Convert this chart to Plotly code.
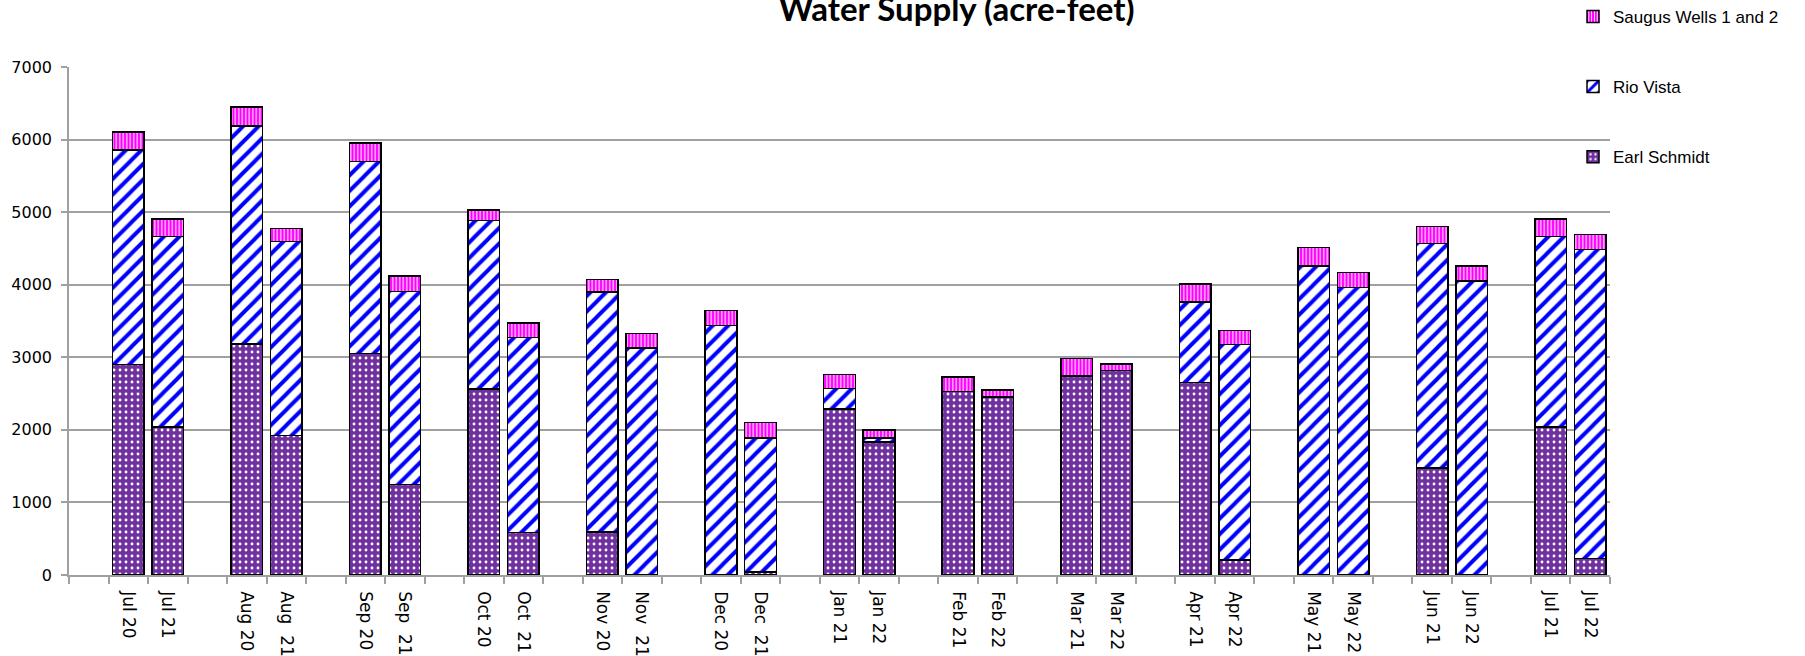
import plotly.graph_objects as go

# Month labels (two bars per month group: previous year, current year)
labels = ["Jul 20", "Jul 21", "Aug 20", "Aug\u00a0 21", "Sep 20", "Sep\u00a0 21",
          "Oct 20", "Oct\u00a0 21", "Nov 20", "Nov\u00a0 21", "Dec 20", "Dec\u00a0 21",
          "Jan 21", "Jan 22", "Feb 21", "Feb 22", "Mar 21", "Mar 22",
          "Apr 21", "Apr 22", "May 21", "May 22", "Jun 21", "Jun 22",
          "Jul 21", "Jul 22"]

earl_schmidt = [2900, 2040, 3180, 1920, 3050, 1245, 2565, 585, 595, 0, 0, 40,
                2290, 1830, 2530, 2455, 2745, 2815, 2655, 205, 0, 0, 1475, 0,
                2040, 225]
rio_vista = [2955, 2625, 3010, 2675, 2650, 2665, 2320, 2690, 3305, 3125, 3435, 1845,
             280, 55, 0, 0, 0, 0, 1105, 2970, 4260, 3965, 3095, 4050,
             2625, 4260]
saugus_wells = [250, 240, 260, 180, 255, 210, 145, 195, 175, 200, 210, 215,
                195, 115, 195, 95, 240, 90, 250, 195, 250, 205, 230, 205,
                240, 205]

# category slot of each bar: a blank slot precedes every pair of bars
n_slots = 3 * (len(labels) // 2)
xpos = [3 * (i // 2) + 1 + (i % 2) for i in range(len(labels))]

grid = "#a0a0a0"
outline = dict(color="black", width=1.5)

fig = go.Figure()
fig.add_trace(go.Bar(
    name="Earl Schmidt", x=xpos, y=earl_schmidt, legendgroup="e", legendrank=3,
    marker=dict(color="#7030A0", line=outline,
                pattern=dict(shape=".", fgcolor="white", bgcolor="#7030A0",
                             fgopacity=1, size=6, solidity=0.18, fillmode="overlay")),
))
fig.add_trace(go.Bar(
    name="Rio Vista", x=xpos, y=rio_vista, legendgroup="r", legendrank=2,
    marker=dict(color="white", line=outline,
                pattern=dict(shape="/", fgcolor="#0000FF", bgcolor="white",
                             fgopacity=1, size=11, solidity=0.36, fillmode="overlay")),
))
fig.add_trace(go.Bar(
    name="Saugus Wells 1 and 2", x=xpos, y=saugus_wells, legendgroup="s", legendrank=1,
    marker=dict(color="#FF00FF", line=outline,
                pattern=dict(shape="|", fgcolor="white", bgcolor="#FF00FF",
                             fgopacity=1, size=3.5, solidity=0.3, fillmode="overlay")),
))

fig.update_layout(
    width=1805, height=656, autosize=False,
    barmode="stack", bargap=0.2,
    paper_bgcolor="white", plot_bgcolor="white",
    margin=dict(l=69, r=195, t=67, b=81, autoexpand=False),
    title=dict(text="<b>Water Supply (acre-feet)</b>", x=0.530, xanchor="center",
               y=0.985, yanchor="middle", yref="container",
               font=dict(family="Lato", size=33, color="black")),
    legend=dict(x=0.976, xanchor="left", y=1.134, yanchor="top",
                traceorder="grouped", tracegroupgap=45,
                bgcolor="rgba(0,0,0,0)", itemwidth=30,
                font=dict(family="Liberation Sans", size=17, color="black")),
    showlegend=True,
)

fig.update_yaxes(
    range=[0, 7000], dtick=1000, showgrid=True, gridcolor=grid, gridwidth=1.5,
    showline=True, linecolor=grid, linewidth=1.5, zeroline=False,
    ticks="outside", ticklen=6, tickcolor=grid, tickwidth=1.5,
    ticklabelstandoff=6, automargin=False,
    tickfont=dict(family="DejaVu Sans", size=16, color="black"),
)
fig.update_xaxes(
    range=[-0.5, n_slots - 0.5], showgrid=False, zeroline=False,
    showline=True, linecolor=grid, linewidth=1.5,
    tickmode="array", tickvals=xpos, ticktext=labels, tickangle=90,
    ticks="", ticklabelstandoff=11, automargin=False,
    tickfont=dict(family="DejaVu Sans", size=17, color="black"),
    minor=dict(tickmode="linear", tick0=-0.5, dtick=1, ticks="outside",
               ticklen=7, tickcolor=grid, tickwidth=1.5, showgrid=False),
)

fig.write_html("out.html", config={"displayModeBar": False},
               post_script="document.body.style.margin='0';")
